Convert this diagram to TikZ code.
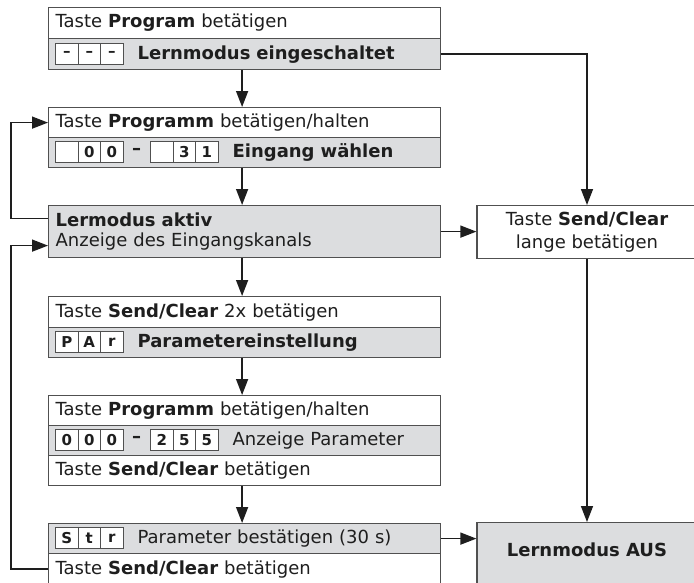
\documentclass[tikz,border=0pt]{standalone}
\usepackage{fontspec}
\setmainfont{DejaVu Sans}
\usetikzlibrary{arrows.meta}
\definecolor{boxgray}{RGB}{220,221,223}
\definecolor{edge}{RGB}{80,80,80}
\definecolor{ink}{RGB}{30,30,30}
\tikzset{
  row/.style={draw=edge, line width=1.2pt, minimum width=392pt, text width=378pt,
    inner xsep=7pt, inner ysep=0pt, minimum height=#1, anchor=north west, align=left,
    font=\fontsize{18}{20}\selectfont, text=ink},
  wrow/.style={row=#1, fill=white},
  grow/.style={row=#1, fill=boxgray},
  rbox/.style={draw=edge, line width=1.2pt, minimum width=220pt, minimum height=#1,
    anchor=north, align=center, inner sep=0pt, font=\fontsize{18}{23}\selectfont, text=ink},
  cell/.style={draw=edge, line width=1pt, fill=white, minimum width=22.5pt, minimum height=21pt,
    inner sep=0pt, font=\fontsize{15}{16}\selectfont\bfseries, text=ink, anchor=west},
  sepdash/.style={font=\fontsize{18}{20}\selectfont\bfseries, text=ink, inner sep=0pt},
  conn/.style={draw=ink, line width=1.5pt},
  arr/.style={conn, -{Triangle[length=16pt,width=12pt]}},
}
\begin{document}
\begin{tikzpicture}[x=1pt,y=-1pt]
\useasboundingbox (0,0) rectangle (694,582);
% left column
\node[wrow=31pt] (b1a) at (48,7) {Taste \textbf{Program} betätigen};
\node[grow=31pt] (b1b) at (48,38) {\hspace*{82pt}\textbf{Lernmodus eingeschaltet}};
\node[wrow=30pt] (b2a) at (48,107) {Taste \textbf{Programm} betätigen/halten};
\node[grow=30pt] (b2b) at (48,137) {\hspace*{177pt}\textbf{Eingang wählen}};
\node[grow=52pt] (b3) at (48,205) {\textbf{Lermodus aktiv}\\Anzeige des Eingangskanals};
\node[wrow=31pt] (b4a) at (48,296) {Taste \textbf{Send/Clear} 2x betätigen};
\node[grow=30pt] (b4b) at (48,327) {\hspace*{82pt}\textbf{Parametereinstellung}};
\node[wrow=30pt] (b5a) at (48,395) {Taste \textbf{Programm} betätigen/halten};
\node[grow=30pt] (b5b) at (48,425) {\hspace*{177pt}Anzeige Parameter};
\node[wrow=30pt] (b5c) at (48,455) {Taste \textbf{Send/Clear} betätigen};
\node[grow=30pt] (b6a) at (48,523) {\hspace*{82pt}Parameter bestätigen (30 s)};
\node[wrow=31pt] (b6b) at (48,553) {Taste \textbf{Send/Clear} betätigen};
% right column
\node[rbox=53pt, fill=white] (r1) at (587,205) {Taste \textbf{Send/Clear}\\lange betätigen};
\node[rbox=70pt, fill=boxgray, text depth=0pt] (r2) at (587,522) {\raisebox{16pt}{\textbf{Lernmodus AUS}}};
% display cells
\node[cell] (c11) at (55,53.5) {–};
\node[cell] (c12) at (77.5,53.5) {–};
\node[cell] (c13) at (100,53.5) {–};
\node[cell] (c21) at (55,152) {};
\node[cell] (c22) at (77.5,152) {0};
\node[cell] (c23) at (100,152) {0};
\node[sepdash] (d2) at (136.5,151) {–};
\node[cell] (c24) at (150,152) {};
\node[cell] (c25) at (172.5,152) {3};
\node[cell] (c26) at (195,152) {1};
\node[cell] (c41) at (55,342) {P};
\node[cell] (c42) at (77.5,342) {A};
\node[cell] (c43) at (100,342) {r};
\node[cell] (c51) at (55,440) {0};
\node[cell] (c52) at (77.5,440) {0};
\node[cell] (c53) at (100,440) {0};
\node[sepdash] (d5) at (136.5,439) {–};
\node[cell] (c54) at (150,440) {2};
\node[cell] (c55) at (172.5,440) {5};
\node[cell] (c56) at (195,440) {5};
\node[cell] (c61) at (55,538) {S};
\node[cell] (c62) at (77.5,538) {t};
\node[cell] (c63) at (100,538) {r};
% connectors
\draw[arr] ([xshift=-2.5pt]b1b.south) -- ([xshift=-2.5pt]b2a.north);
\draw[arr] ([xshift=-2.5pt]b2b.south) -- ([xshift=-2.5pt]b3.north);
\draw[arr] ([xshift=-2.5pt]b3.south) -- ([xshift=-2.5pt]b4a.north);
\draw[arr] ([xshift=-2.5pt]b4b.south) -- ([xshift=-2.5pt]b5a.north);
\draw[arr] ([xshift=-2.5pt]b5c.south) -- ([xshift=-2.5pt]b6a.north);
\draw[arr] (b1b.east) -| (r1.north);
\draw[arr] (r1.south) -- (r2.north);
\draw[arr] (b3.east) -- (b3.east -| r1.west);
\draw[arr] (b6a.east) -- (b6a.east -| r2.west);
\draw[arr] ([yshift=13pt]b3.west) -- ++(-37,0) |- (b2a.west);
\draw[arr] (b6b.west) -- ++(-37,0) |- ([yshift=-14pt]b3.west);
\end{tikzpicture}
\end{document}
